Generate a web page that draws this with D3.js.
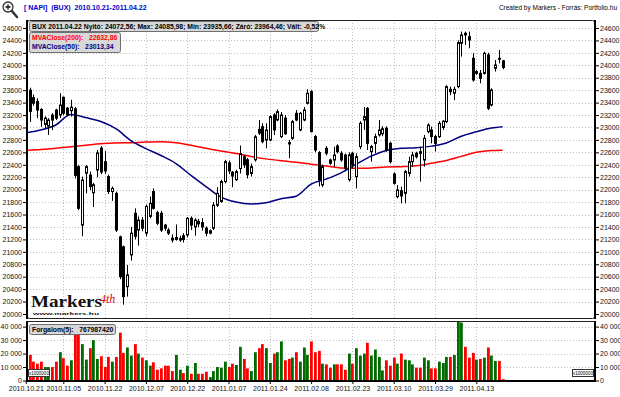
<!DOCTYPE html>
<html>
<head>
<meta charset="utf-8">
<script src="https://cdn.jsdelivr.net/npm/d3@7"></script>
<style>
  body { margin: 0; background: #fff; }
  svg { display: block; font-family: "Liberation Sans", Arial, sans-serif; }
</style>
</head>
<body>
<div id="chart"></div>
<script>
// date labels and the bar index each one sits on
const dateLabels = ['2010.10.21','2010.11.05','2010.11.22','2010.12.07','2010.12.22','2011.01.07',
  '2011.01.24','2011.02.08','2011.02.23','2011.03.10','2011.03.29','2011.04.13'];
const dateIdx = [0, 10, 21, 32, 43, 54, 65, 76, 87, 98, 109, 120];

// daily OHLC, BUX index (128 trading days)
const opens = [23450,23600,23480,23420,23290,23050,23020,23200,23280,23200,23485,23310,23270,23300,22370,21430,
  22265,22235,21950,22316,22670,22450,22210,21970,21940,21240,21080,20440,20950,21620,21350,21510,
  21300,21570,21970,21630,21620,21430,21350,21220,21200,21190,21260,21270,21540,21400,21490,21470,
  21380,21300,21380,21750,21810,22130,22430,22280,22160,22340,22530,22480,22260,22480,22970,23013,
  22799,22799,23201,23121,22853,23150,22756,22826,23228,22960,23121,23389,23576,22853,22595,22075,
  22665,22477,22477,22702,22584,22557,22160,22584,22209,22692,23121,23308,22611,22745,22880,22900,
  22987,22745,22252,21887,21984,21941,22263,22450,22584,22611,22477,22933,22960,22853,22853,23000,
  23094,23614,23550,23657,24354,24515,24461,24113,23871,23871,23871,24166,23362,23952,24113,24072.56];
const highs = [23650,23640,23530,23470,23310,23180,23150,23230,23300,23550,23500,23330,23445,23330,22400,22210,
  22395,22290,22110,22640,22700,22620,22240,22050,21970,21260,21100,20790,21400,21700,21570,21560,
  21760,21890,22020,21660,21660,21450,21380,21280,21440,21260,21300,21560,21570,21540,21530,21540,
  21410,21360,21800,22040,22160,22480,22470,22300,22320,22710,22560,22510,22420,22880,23120,23067,
  23067,23200,23230,23290,23250,23200,22800,23120,23280,23250,23330,23614,23600,22880,22620,22400,
  22700,22500,22690,22730,22620,22580,22600,22610,22584,23100,23330,23330,22720,22900,23121,23020,
  23020,22770,22280,22075,22048,22316,22530,22610,22610,22690,22880,23067,23014,22880,23100,23121,
  23680,23657,23657,24400,24542,24542,24542,24193,23925,23925,24220,24200,23630,24086,24247,24085.98];
const lows = [23400,23090,23350,23150,23010,22990,22880,22960,23120,23150,23200,23180,23175,22180,21670,21250,
  21940,21990,21720,22200,22250,22250,21930,21820,21320,20560,20150,20280,20860,21200,21100,21330,
  21250,21540,21680,21430,21320,21340,21270,21150,21180,21160,21150,21230,21350,21260,21400,21340,
  21250,21280,21350,21720,21790,22100,22250,22040,22140,22260,22350,22180,22210,22450,22880,22745,
  22665,22780,22879,23100,22830,22880,22505,22800,23100,22940,23100,23370,22920,22600,22050,22040,
  22550,22400,22370,22580,22450,22300,22130,22340,22020,22650,22960,22638,22450,22584,22853,22860,
  22610,22420,22080,21860,21780,21780,22210,22370,22500,22129,22370,22906,22745,22611,22830,22960,
  23070,23520,23440,23630,24140,24327,24274,23737,23845,23710,23850,23280,23340,23900,24032,23935.66];
const closes = [23600,23260,23390,23280,23120,23150,23120,23120,23150,23360,23230,23200,23325,22230,21700,22155,
  22370,22050,22080,22590,22284,22300,21970,22020,21350,20600,20280,20630,21300,21250,21510,21380,
  21730,21780,21700,21460,21350,21380,21300,21190,21230,21215,21200,21540,21430,21510,21450,21400,
  21300,21340,21750,21940,22130,22450,22300,22220,22290,22580,22400,22240,22370,22850,22910,22772,
  22960,23174,22960,23255,23201,22900,22735,23094,23121,23228,23282,23550,22934,22638,22156,22370,
  22585,22424,22557,22611,22477,22343,22560,22397,22531,23067,23174,22745,22692,22853,22960,22980,
  22638,22450,22102,21995,21898,22290,22450,22557,22530,22584,22826,23040,22853,22745,23067,23100,
  23657,23576,23614,24365,24488,24488,24408,23764,23898,23791,24193,23308,23603,24005,24097,23964.46];

// turnover per day (x1 000 000 HUF)
const volumes = [15000,19000,14000,12500,14000,10000,10000,10000,14000,21000,16500,11000,15000,37000,37000,27000,
  15500,24000,30000,16000,18000,10000,17500,14000,17500,35500,20500,24500,18500,27000,20000,17000,
  15000,11000,13500,8000,9000,11000,11000,7000,19000,8000,5500,11000,5000,13000,5000,5000,
  6500,2500,7000,10000,9500,14000,10000,12500,11500,25000,16000,9000,7000,21000,24000,27000,
  24000,13000,20000,21000,29000,15000,16000,17000,21000,14000,24500,19000,29000,21000,22000,12500,
  12000,9500,12000,12000,12000,8000,20000,12500,24000,18500,20000,28000,18500,23000,17500,7500,
  15000,11000,17000,12500,20000,15500,15000,12000,9500,9500,17000,15000,9000,9000,14000,13000,
  17500,17500,19000,44000,43000,25000,17000,20500,15500,16000,17000,24500,18500,14500,14500,1000];

// moving averages at every 4th bar
const maIdx = [0,4,8,12,16,20,24,28,32,36,40,44,48,52,56,60,64,68,72,76,80,84,88,92,96,100,104,108,112,116,120,124,127];
const ma50 = [22915,22960,23040,23210,23160,23095,22980,22790,22660,22550,22420,22230,22050,21880,21800,21770,
  21790,21855,21895,22090,22170,22270,22410,22540,22630,22665,22675,22700,22750,22860,22930,22990,23013];
const ma200 = [22630,22645,22665,22690,22715,22740,22750,22755,22765,22770,22755,22715,22665,22620,22580,22535,
  22495,22465,22440,22410,22380,22350,22343,22350,22365,22370,22385,22425,22470,22535,22600,22628,22633];

const priceTicks = d3.range(20000, 24601, 200);
const volTicks = [0, 10000, 20000, 30000, 40000];

const W = 620, H = 397;
const L = 27, R = 595;
const mainTop = 20, mainBot = 318;
const volTop = 321, volBot = 381;

const svg = d3.select('#chart').append('svg')
  .attr('width', W).attr('height', H)
  .attr('viewBox', `0 0 ${W} ${H}`);

const x = d3.scaleLinear().domain([0, 127]).range([25.75, 502.6]);
const y = d3.scaleLinear().domain([20000, 24600]).range([314, 28]);
const yv = d3.scaleLinear().domain([0, 40000]).range([380.5, 326.6]);
const px = i => Math.round(x(i));

// clip areas
const defs = svg.append('defs');
defs.append('clipPath').attr('id', 'clipMain')
  .append('rect').attr('x', L + 1).attr('y', mainTop).attr('width', R - L - 1).attr('height', mainBot - mainTop);
defs.append('clipPath').attr('id', 'clipVol')
  .append('rect').attr('x', L + 1).attr('y', volTop).attr('width', R - L - 1).attr('height', volBot - volTop);

// header
const mag = svg.append('g').attr('transform', 'translate(8,7)');
mag.append('line').attr('x1', 3).attr('y1', 3).attr('x2', 9).attr('y2', 10)
  .attr('stroke', '#333').attr('stroke-width', 2.5).attr('stroke-linecap', 'round');
mag.append('circle').attr('r', 5).attr('fill', '#f4f4f4').attr('stroke', '#333').attr('stroke-width', 1.3);
mag.append('path').attr('d', 'M-2.5,0H2.5M0,-2.5V2.5').attr('stroke', '#111').attr('stroke-width', 1.3);

svg.append('text').attr('x', 24).attr('y', 10)
  .attr('fill', '#0000cc').style('font-size', '7px').style('font-weight', 'bold')
  .attr('xml:space', 'preserve')
  .text('[ NAPI]  (BUX)  2010.10.21-2011.04.22');
svg.append('text').attr('x', 617).attr('y', 10).attr('text-anchor', 'end')
  .attr('fill', '#000').style('font-size', '6.5px')
  .text('Created by Markers - Forrás: Portfolio.hu');

// grid
const grid = svg.append('g').attr('stroke', '#c0c0c0').attr('stroke-dasharray', '1,2');
priceTicks.filter(d => d > 20000).forEach(d => {
  grid.append('line').attr('x1', L).attr('x2', R)
    .attr('y1', Math.round(y(d)) + 0.5).attr('y2', Math.round(y(d)) + 0.5);
});
volTicks.filter(d => d > 0).forEach(d => {
  grid.append('line').attr('x1', L).attr('x2', R)
    .attr('y1', Math.round(yv(d)) + 0.5).attr('y2', Math.round(yv(d)) + 0.5);
});
dateIdx.filter(d => d > 0).forEach(d => {
  grid.append('line').attr('x1', px(d) + 0.5).attr('x2', px(d) + 0.5).attr('y1', mainTop).attr('y2', mainBot);
  grid.append('line').attr('x1', px(d) + 0.5).attr('x2', px(d) + 0.5).attr('y1', volTop).attr('y2', volBot);
});

// logo watermark
svg.append('text').attr('x', 31).attr('y', 307)
  .attr('textLength', 71).attr('lengthAdjust', 'spacingAndGlyphs')
  .style('font-family', '"Liberation Serif", "Times New Roman", serif')
  .style('font-size', '16px').style('font-weight', 'bold').attr('fill', '#111')
  .text('Markers');
svg.append('text').attr('x', 100).attr('y', 303)
  .style('font-family', '"Liberation Serif", serif').style('font-style', 'italic')
  .style('font-size', '12px').attr('fill', '#e00000')
  .text('4th');
svg.append('text').attr('x', 33).attr('y', 315)
  .attr('textLength', 66).attr('lengthAdjust', 'spacingAndGlyphs')
  .style('font-size', '4.2px').style('font-weight', 'bold').attr('fill', '#111')
  .text('www.markers.hu');

// moving averages
const maLine = d3.line().x((d, i) => x(maIdx[i])).curve(d3.curveMonotoneX);
const main = svg.append('g').attr('clip-path', 'url(#clipMain)');
main.append('path').datum(ma200).attr('d', maLine.y(d => y(d)))
  .attr('fill', 'none').attr('stroke', '#ff0000').attr('stroke-width', 1.5);
main.append('path').datum(ma50).attr('d', maLine.y(d => y(d)))
  .attr('fill', 'none').attr('stroke', '#000080').attr('stroke-width', 1.5);

// candles
const bars = d3.range(opens.length);
const candle = main.selectAll('g.c').data(bars).join('g').attr('class', 'c');
candle.append('line')
  .attr('x1', i => px(i) + 0.5).attr('x2', i => px(i) + 0.5)
  .attr('y1', i => y(highs[i])).attr('y2', i => y(lows[i]))
  .attr('stroke', '#000').attr('stroke-width', 1);
candle.append('rect')
  .attr('x', i => px(i) - 0.5).attr('width', 2)
  .attr('y', i => y(Math.max(opens[i], closes[i])))
  .attr('height', i => Math.max(0.5, Math.abs(y(opens[i]) - y(closes[i]))))
  .attr('fill', i => closes[i] >= opens[i] ? '#fff' : '#000')
  .attr('stroke', '#000').attr('stroke-width', 1);

// volume bars
svg.append('g').attr('clip-path', 'url(#clipVol)')
  .selectAll('rect').data(bars).join('rect')
  .attr('x', i => px(i) - 1).attr('width', 2.8)
  .attr('y', i => yv(volumes[i]))
  .attr('height', i => yv(0) - yv(volumes[i]))
  .attr('fill', i => closes[i] >= opens[i] ? '#006c00' : '#ff0000');

// panel frames
svg.append('rect').attr('x', L + 0.5).attr('y', mainTop + 0.5).attr('width', R - L - 1).attr('height', mainBot - mainTop)
  .attr('rx', 2).attr('fill', 'none').attr('stroke', '#222');
svg.append('rect').attr('x', L + 0.5).attr('y', volTop + 0.5).attr('width', R - L - 1).attr('height', volBot - volTop - 1)
  .attr('fill', 'none').attr('stroke', '#222');
[[L, mainTop, mainBot], [R, mainTop, mainBot], [L, volTop, volBot], [R, volTop, volBot]].forEach(([xx, a, b]) => {
  svg.append('line').attr('x1', xx).attr('x2', xx).attr('y1', a).attr('y2', b + 1)
    .attr('stroke', '#000').attr('stroke-width', 2);
});
svg.append('line').attr('x1', L - 1).attr('x2', R + 1).attr('y1', volBot).attr('y2', volBot)
  .attr('stroke', '#000').attr('stroke-width', 2);

// axes
function styleAxis(g) {
  g.select('.domain').remove();
  g.selectAll('text').style('font-size', '7px').style('font-family', '"Liberation Sans", Arial, sans-serif')
    .attr('fill', '#111');
  g.selectAll('.tick line').attr('stroke', '#000');
}
svg.append('g').attr('transform', `translate(${L - 1},0)`)
  .call(d3.axisLeft(y).tickValues(priceTicks).tickSize(3).tickPadding(1).tickFormat(d3.format('d')))
  .call(styleAxis);
svg.append('g').attr('transform', `translate(${R + 1},0)`)
  .call(d3.axisRight(y).tickValues(priceTicks).tickSize(3).tickPadding(1).tickFormat(d3.format('d')))
  .call(styleAxis);
const volFmt = d => d3.format(',')(d).replace(/,/g, ' ');
svg.append('g').attr('transform', `translate(${L - 1},0)`)
  .call(d3.axisLeft(yv).tickValues(volTicks).tickSize(3).tickPadding(1).tickFormat(volFmt))
  .call(styleAxis);
svg.append('g').attr('transform', `translate(${R + 1},0)`)
  .call(d3.axisRight(yv).tickValues(volTicks).tickSize(3).tickPadding(1).tickFormat(volFmt))
  .call(styleAxis);
svg.append('g').attr('transform', `translate(0,${volBot})`)
  .call(d3.axisBottom(x).tickValues(dateIdx).tickSize(3).tickPadding(2).tickFormat((d, i) => dateLabels[i]))
  .call(styleAxis);

// info boxes
function box(x0, y0, w, h) {
  svg.append('rect').attr('x', x0 + 0.5).attr('y', y0 + 0.5).attr('width', w).attr('height', h)
    .attr('rx', 2).attr('fill', '#d8d8d8').attr('stroke', '#707070');
}
box(29, 21, 289, 10);
svg.append('text').attr('x', 32).attr('y', 29).style('font-size', '6.8px').style('font-weight', 'bold')
  .attr('fill', '#000')
  .text('BUX 2011.04.22 Nyitó: 24072,56; Max: 24085,98; Min: 23935,66; Záró: 23964,46; Vált: -0,52%');
box(29, 32, 91, 20);
svg.append('text').attr('x', 32).attr('y', 40).style('font-size', '6.8px').style('font-weight', 'bold')
  .attr('fill', '#ff0000').attr('xml:space', 'preserve').text('MVAClose(200):   22632,86');
svg.append('text').attr('x', 32).attr('y', 49).style('font-size', '6.8px').style('font-weight', 'bold')
  .attr('fill', '#000080').attr('xml:space', 'preserve').text('MVAClose(50):   23013,34');
box(29, 324, 86, 10);
svg.append('text').attr('x', 32).attr('y', 332).style('font-size', '6.8px').style('font-weight', 'bold')
  .attr('fill', '#000').attr('xml:space', 'preserve').text('Forgalom(5):   767987420');

function unitBox(x0) {
  svg.append('rect').attr('x', x0 + 0.5).attr('y', 369.5).attr('width', 21).attr('height', 7)
    .attr('fill', '#fff').attr('stroke', '#333');
  svg.append('text').attr('x', x0 + 11).attr('y', 375).attr('text-anchor', 'middle')
    .style('font-size', '4.5px').attr('fill', '#000').text('x1000000');
}
unitBox(28);
unitBox(572);
</script>
</body>
</html>
